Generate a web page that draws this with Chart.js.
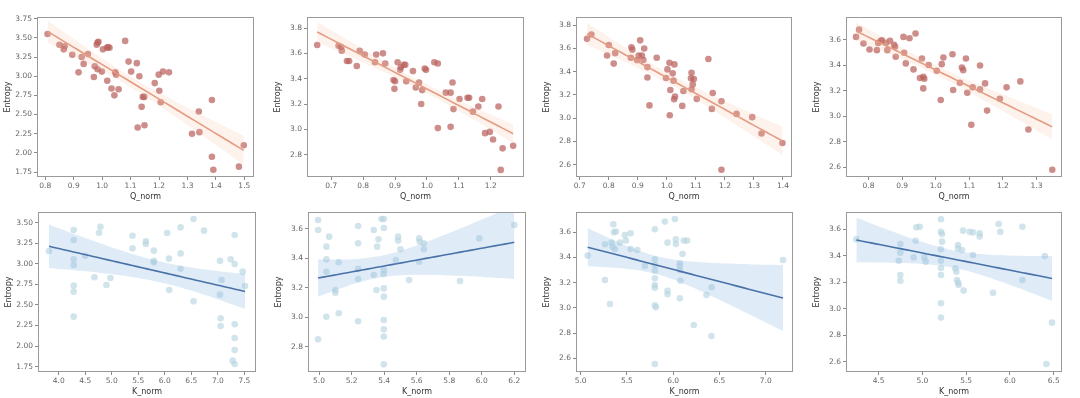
<!DOCTYPE html>
<html>
<head>
<meta charset="utf-8">
<script src="https://cdn.jsdelivr.net/npm/chart.js@4/dist/chart.umd.min.js"></script>
<style>
  body { margin: 0; background: #fff; }
  #wrap { position: relative; width: 1080px; height: 398px; overflow: hidden; }
  canvas { position: absolute; }
</style>
</head>
<body>
<div id="wrap"></div>
<script>
// --- top row: Q_norm vs Entropy ---
const q1X = [0.808,0.85,0.868,0.865,0.895,0.928,0.935,0.917,0.95,0.971,0.974,0.984,0.981,0.984,0.987,0.999,1.003,1.017,1.021,1.026,1.018,1.033,1.043,1.046,1.049,1.058,1.081,1.093,1.102,1.122,1.131,1.125,1.139,1.143,1.148,1.149,1.185,1.199,1.201,1.206,1.214,1.235,1.316,1.34,1.342,1.386,1.386,1.391,1.481,1.498];
const q1Y = [3.55,3.41,3.39,3.35,3.28,3.25,3.16,3.05,3.29,2.99,3.13,3.09,3.41,3.44,3.45,3.06,3.35,3.37,3.38,3.37,2.94,2.84,2.75,3.05,3.02,2.83,3.46,3.19,3.06,3.17,3.0,2.33,2.60,2.73,2.73,2.36,2.91,3.02,2.81,2.66,3.06,3.05,2.25,2.54,2.27,2.69,1.95,1.78,1.82,2.10];

const q2X = [0.656,0.723,0.731,0.733,0.749,0.756,0.780,0.789,0.805,0.837,0.841,0.862,0.869,0.895,0.900,0.898,0.908,0.916,0.918,0.927,0.932,0.935,0.956,0.965,0.975,0.982,0.985,0.993,0.997,1.023,1.034,1.034,1.059,1.074,1.074,1.080,1.083,1.102,1.127,1.132,1.144,1.161,1.173,1.182,1.197,1.207,1.224,1.237,1.231,1.270];
const q2Y = [3.666,3.66,3.65,3.62,3.54,3.54,3.50,3.62,3.59,3.53,3.59,3.60,3.52,3.39,3.38,3.32,3.53,3.47,3.49,3.51,3.51,3.38,3.46,3.33,3.37,3.20,3.31,3.48,3.47,3.53,3.52,3.01,3.29,3.29,3.02,3.37,3.16,3.24,3.25,3.25,3.14,3.18,3.24,2.97,2.98,2.92,3.18,2.85,2.68,2.87];

const q3X = [0.725,0.740,0.794,0.800,0.817,0.822,0.876,0.878,0.881,0.897,0.903,0.908,0.914,0.919,0.922,0.933,0.933,0.940,0.965,0.997,1.002,1.009,1.010,1.012,1.020,1.023,1.026,1.028,1.025,1.057,1.053,1.085,1.083,1.089,1.085,1.093,1.103,1.143,1.158,1.155,1.188,1.188,1.240,1.294,1.326,1.398];
const q3Y = [3.683,3.72,3.54,3.63,3.47,3.56,3.52,3.61,3.59,3.50,3.54,3.67,3.54,3.50,3.60,3.44,3.35,3.11,3.52,3.346,3.42,3.477,3.026,3.243,3.386,3.323,3.463,3.186,3.163,3.234,3.106,3.391,3.343,3.291,3.249,3.337,3.166,3.509,3.217,3.08,3.146,2.557,3.037,3.009,2.869,2.786];

const q4X = [0.763,0.772,0.785,0.803,0.825,0.829,0.837,0.840,0.852,0.856,0.864,0.876,0.879,0.881,0.904,0.906,0.911,0.922,0.940,0.934,0.953,0.959,0.963,0.966,0.963,0.979,1.003,1.015,1.018,1.023,1.050,1.052,1.072,1.078,1.082,1.090,1.094,1.106,1.110,1.132,1.132,1.147,1.153,1.191,1.211,1.252,1.276,1.347];
const q4Y = [3.621,3.678,3.569,3.522,3.517,3.574,3.590,3.595,3.574,3.517,3.590,3.558,3.543,3.465,3.621,3.496,3.413,3.610,3.647,3.366,3.298,3.452,3.308,3.293,3.217,3.40,3.355,3.126,3.407,3.459,3.485,3.204,3.261,3.381,3.360,3.452,3.183,2.931,3.225,3.397,3.209,3.256,3.043,3.136,3.225,3.272,2.894,2.579];

// --- bottom row: K_norm vs Entropy ---
const k1X = [3.817,4.283,4.283,4.283,4.283,4.283,4.283,4.283,4.497,4.673,4.761,4.787,4.9,4.975,5.391,5.391,5.643,5.643,5.794,5.794,5.794,6.045,6.077,6.083,6.297,6.297,6.297,6.542,6.542,6.738,7.04,7.071,7.04,7.052,7.052,7.241,7.317,7.317,7.317,7.317,7.317,7.279,7.317,7.468,7.512];
const k1Y = [3.156,3.411,3.289,3.055,2.986,2.735,2.662,2.358,3.099,2.836,3.378,3.451,2.743,2.828,3.342,3.188,3.273,3.241,3.160,3.038,3.018,3.374,3.063,2.682,3.443,3.127,2.941,3.545,2.544,3.403,3.038,2.803,2.625,2.338,2.244,3.055,2.998,3.350,2.265,2.099,1.953,1.823,1.783,2.905,2.73];

const k2X = [4.994,4.994,4.994,5.045,5.045,5.045,5.045,5.062,5.1,5.1,5.121,5.121,5.24,5.24,5.24,5.24,5.24,5.336,5.336,5.353,5.357,5.365,5.384,5.398,5.398,5.398,5.398,5.398,5.398,5.398,5.398,5.398,5.398,5.472,5.486,5.486,5.5,5.554,5.615,5.619,5.615,5.644,5.644,5.866,5.985,6.2];
const k2Y = [3.659,3.591,2.85,3.478,3.392,3.308,3.003,3.546,3.184,3.166,3.372,3.026,3.618,3.501,3.327,3.259,2.972,3.591,3.286,3.184,3.478,3.528,3.666,3.666,3.604,3.320,3.293,3.195,3.139,2.981,2.918,2.868,2.680,3.388,3.546,3.519,3.46,3.252,3.534,3.512,3.376,3.501,3.46,3.245,3.534,3.625];

const k3X = [5.076,5.263,5.263,5.317,5.335,5.345,5.353,5.36,5.371,5.381,5.424,5.478,5.489,5.54,5.54,5.612,5.694,5.802,5.802,5.802,5.802,5.802,5.802,5.802,5.802,5.813,5.802,5.91,5.939,5.939,5.939,6.018,6.029,6.029,6.072,6.072,6.072,6.079,6.072,6.101,6.115,6.151,6.223,6.36,6.414,6.414,7.187];
const k3Y = [3.415,3.222,3.505,3.031,3.518,3.486,3.663,3.6,3.465,3.606,3.518,3.579,3.534,3.592,3.468,3.46,3.333,3.624,3.386,3.341,3.296,3.235,3.182,3.161,3.021,3.005,2.555,3.685,3.518,3.137,3.108,3.706,3.544,3.507,3.354,3.333,3.301,3.216,3.076,3.428,3.534,3.534,2.865,3.103,3.164,2.777,3.380];

const k4X = [4.245,4.729,4.748,4.748,4.748,4.748,4.9,4.923,4.930,4.969,5.022,5.037,5.212,5.212,5.224,5.224,5.212,5.212,5.212,5.212,5.212,5.212,5.376,5.388,5.395,5.407,5.407,5.407,5.414,5.452,5.464,5.471,5.54,5.578,5.578,5.654,5.654,5.807,5.871,5.890,6.142,6.142,6.398,6.417,6.481];
const k4Y = [3.524,3.363,3.489,3.424,3.255,3.212,3.388,3.514,3.615,3.620,3.388,3.356,3.676,3.582,3.565,3.507,3.449,3.363,3.308,3.255,3.041,2.933,3.305,3.280,3.217,3.482,3.456,3.197,3.179,3.444,3.590,3.137,3.582,3.577,3.406,3.570,3.545,3.121,3.640,3.582,3.620,3.217,3.398,2.582,2.895];

// --- tick labels ---
const q1XTicks = ['0.8','0.9','1.0','1.1','1.2','1.3','1.4','1.5'];
const q1YTicks = ['1.75','2.00','2.25','2.50','2.75','3.00','3.25','3.50','3.75'];
const q2XTicks = ['0.7','0.8','0.9','1.0','1.1','1.2'];
const q2YTicks = ['2.8','3.0','3.2','3.4','3.6','3.8'];
const q3XTicks = ['0.7','0.8','0.9','1.0','1.1','1.2','1.3','1.4'];
const q3YTicks = ['2.6','2.8','3.0','3.2','3.4','3.6','3.8'];
const q4XTicks = ['0.8','0.9','1.0','1.1','1.2','1.3'];
const q4YTicks = ['2.6','2.8','3.0','3.2','3.4','3.6'];
const k1XTicks = ['4.0','4.5','5.0','5.5','6.0','6.5','7.0','7.5'];
const k1YTicks = ['1.75','2.00','2.25','2.50','2.75','3.00','3.25','3.50'];
const k2XTicks = ['5.0','5.2','5.4','5.6','5.8','6.0','6.2'];
const k2YTicks = ['2.8','3.0','3.2','3.4','3.6'];
const k3XTicks = ['5.0','5.5','6.0','6.5','7.0'];
const k3YTicks = ['2.6','2.8','3.0','3.2','3.4','3.6'];
const k4XTicks = ['4.5','5.0','5.5','6.0','6.5'];
const k4YTicks = ['2.6','2.8','3.0','3.2','3.4','3.6'];

const RED = { pt: 'rgba(186,98,94,0.72)', line: 'rgb(228,156,130)', band: 'rgba(248,182,152,0.18)' };
const BLUE = { pt: 'rgba(180,212,222,0.62)', line: 'rgb(72,114,168)', band: 'rgba(150,190,228,0.3)' };

// box = plot frame in page px [left, top, right, bottom]; xr/yr = axis limits
const panels = [
  { x: q1X, y: q1Y, xt: q1XTicks, yt: q1YTicks, xTitle: 'Q_norm', c: RED, box: [37, 17, 254, 177], xr: [0.771, 1.534], yr: [1.685, 3.772] },
  { x: q2X, y: q2Y, xt: q2XTicks, yt: q2YTicks, xTitle: 'Q_norm', c: RED, box: [307, 17, 524, 177], xr: [0.624, 1.304], yr: [2.624, 3.887] },
  { x: q3X, y: q3Y, xt: q3XTicks, yt: q3YTicks, xTitle: 'Q_norm', c: RED, box: [576, 17, 792, 177], xr: [0.687, 1.431], yr: [2.494, 3.871] },
  { x: q4X, y: q4Y, xt: q4XTicks, yt: q4YTicks, xTitle: 'Q_norm', c: RED, box: [846, 17, 1062, 177], xr: [0.733, 1.376], yr: [2.522, 3.777] },
  { x: k1X, y: k1Y, xt: k1XTicks, yt: k1YTicks, xTitle: 'K_norm', c: BLUE, box: [38, 212, 256, 372], xr: [3.61, 7.719], yr: [1.685, 3.63] },
  { x: k2X, y: k2Y, xt: k2XTicks, yt: k2YTicks, xTitle: 'K_norm', c: BLUE, box: [308, 212, 526, 372], xr: [4.932, 6.272], yr: [2.628, 3.713] },
  { x: k3X, y: k3Y, xt: k3XTicks, yt: k3YTicks, xTitle: 'K_norm', c: BLUE, box: [576, 212, 793, 372], xr: [4.95, 7.295], yr: [2.492, 3.761] },
  { x: k4X, y: k4Y, xt: k4XTicks, yt: k4YTicks, xTitle: 'K_norm', c: BLUE, box: [846, 212, 1062, 372], xr: [4.127, 6.595], yr: [2.522, 3.731] }
];

// linear fit + 95% confidence band, like seaborn regplot
function regression(xs, ys) {
  const n = xs.length;
  const mx = xs.reduce((a, b) => a + b, 0) / n;
  const my = ys.reduce((a, b) => a + b, 0) / n;
  let sxx = 0, sxy = 0;
  for (let i = 0; i < n; i++) { sxx += (xs[i] - mx) ** 2; sxy += (xs[i] - mx) * (ys[i] - my); }
  const b = sxy / sxx, a = my - b * mx;
  let sse = 0;
  for (let i = 0; i < n; i++) sse += (ys[i] - a - b * xs[i]) ** 2;
  const s = Math.sqrt(sse / (n - 2));
  const lo = Math.min(...xs), hi = Math.max(...xs);
  const fit = [], up = [], dn = [];
  for (let k = 0; k <= 40; k++) {
    const x = lo + (hi - lo) * k / 40;
    const yh = a + b * x;
    const se = 2.01 * s * Math.sqrt(1 / n + (x - mx) ** 2 / sxx);
    fit.push({ x, y: yh }); up.push({ x, y: yh + se }); dn.push({ x, y: yh - se });
  }
  return { fit, up, dn };
}

const frame = {
  id: 'frame',
  afterDraw(chart) {
    const { ctx, chartArea: ca } = chart;
    ctx.save();
    ctx.strokeStyle = '#9a9a9a';
    ctx.lineWidth = 1;
    ctx.strokeRect(ca.left + 0.5, ca.top + 0.5, ca.right - ca.left - 1, ca.bottom - ca.top - 1);
    ctx.restore();
  }
};

Chart.defaults.font.family = 'DejaVu Sans';
const PADL = 38, PADT = 12, PADR = 14, PADB = 28;
const wrap = document.getElementById('wrap');

panels.forEach(p => {
  const [l, t, r, b] = p.box;
  const cv = document.createElement('canvas');
  const w = r - l + PADL + PADR, h = b - t + PADT + PADB;
  cv.width = w; cv.height = h;
  cv.style.left = (l - PADL) + 'px';
  cv.style.top = (t - PADT) + 'px';
  cv.style.width = w + 'px'; cv.style.height = h + 'px';
  wrap.appendChild(cv);

  const reg = regression(p.x, p.y);
  const pts = p.x.map((v, i) => ({ x: v, y: p.y[i] }));
  const tickOpts = (labels) => ({
    color: '#666', font: { size: 7.5 }, padding: 2, maxRotation: 0, autoSkip: false,
    callback: (v, i) => labels[i]
  });
  const gridOpts = { display: true, drawOnChartArea: false, drawTicks: true, tickLength: 3, color: '#8a8a8a' };

  new Chart(cv, {
    type: 'scatter',
    data: {
      datasets: [
        { data: reg.fit, showLine: true, borderColor: p.c.line, borderWidth: 1.6, pointRadius: 0, order: 0 },
        { data: reg.up, showLine: true, borderWidth: 0, pointRadius: 0, fill: '+1', backgroundColor: p.c.band, order: 1 },
        { data: reg.dn, showLine: true, borderWidth: 0, pointRadius: 0, order: 1 },
        { data: pts, pointRadius: 3.3, pointBackgroundColor: p.c.pt, pointBorderWidth: 0, order: 2 }
      ]
    },
    options: {
      responsive: false,
      animation: false,
      devicePixelRatio: 1,
      layout: { padding: { left: 0, top: PADT, right: PADR, bottom: 0 } },
      plugins: { legend: { display: false }, tooltip: { enabled: false } },
      scales: {
        x: {
          type: 'linear', min: p.xr[0], max: p.xr[1],
          afterBuildTicks: s => { s.ticks = p.xt.map(v => ({ value: parseFloat(v) })); },
          afterFit: s => { s.height = PADB; },
          ticks: tickOpts(p.xt),
          grid: gridOpts,
          border: { display: false },
          title: { display: true, text: p.xTitle, color: '#333', font: { size: 8 }, padding: { top: 1, bottom: 3 } }
        },
        y: {
          type: 'linear', min: p.yr[0], max: p.yr[1],
          afterBuildTicks: s => { s.ticks = p.yt.map(v => ({ value: parseFloat(v) })); },
          afterFit: s => { s.width = PADL; },
          ticks: tickOpts(p.yt),
          grid: gridOpts,
          border: { display: false },
          title: { display: true, text: 'Entropy', color: '#333', font: { size: 8 }, padding: { top: 4, bottom: 2 } }
        }
      }
    },
    plugins: [frame]
  });
});
</script>
</body>
</html>
